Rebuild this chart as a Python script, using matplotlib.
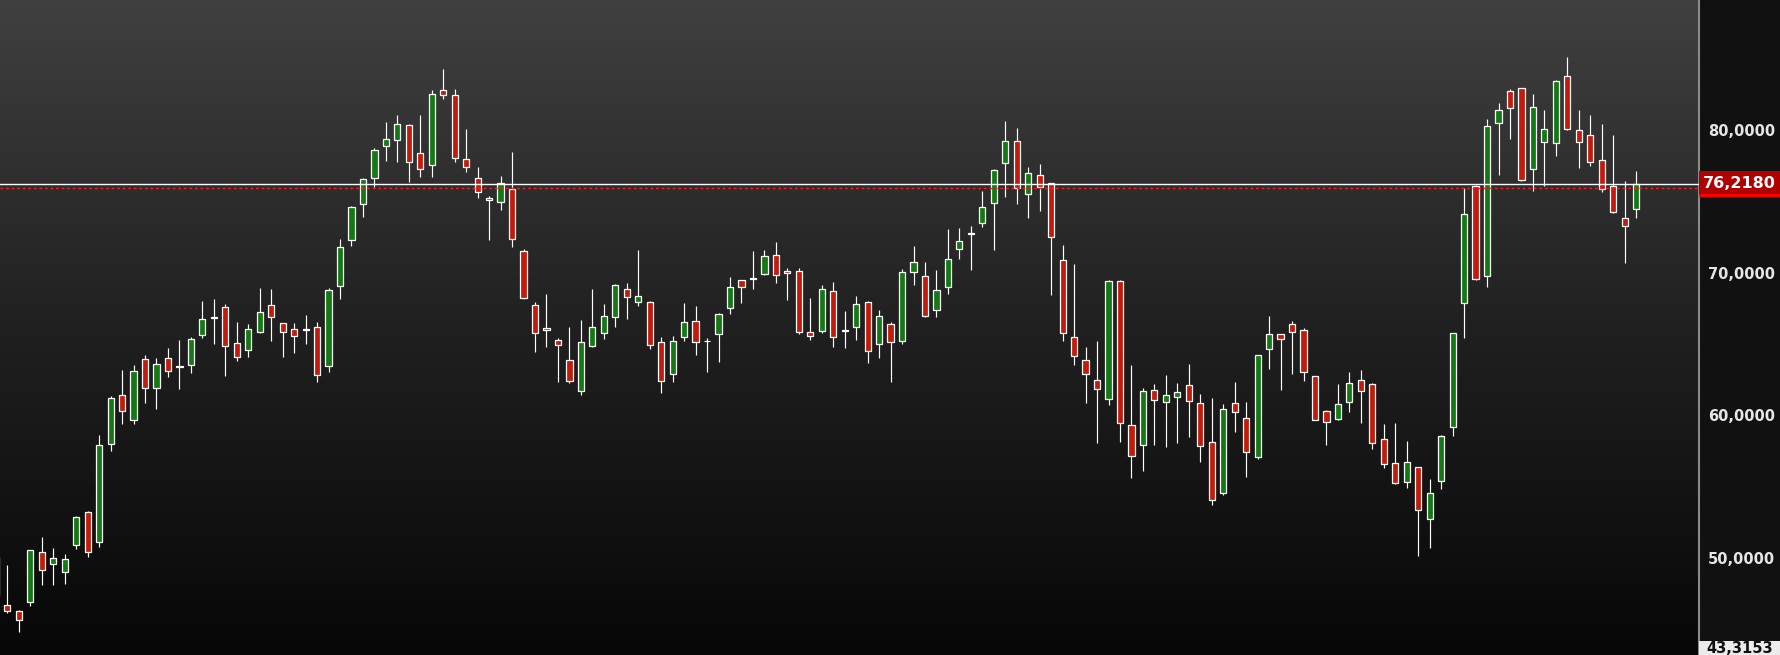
import numpy as np
import matplotlib
matplotlib.use("Agg")
import matplotlib.pyplot as plt
from matplotlib.patches import Rectangle

# daily candles
opens = [47.41, 46.69, 46.27, 46.95, 50.41, 49.61, 49.05, 50.94, 53.21, 51.15,
         58.02, 61.41, 59.66, 63.93, 61.90, 64.00, 63.45, 63.51, 65.61, 66.92,
         67.57, 65.05, 64.60, 65.86, 67.71, 66.45, 66.08, 66.00, 66.17, 63.44,
         69.09, 72.31, 74.79, 76.61, 78.86, 79.28, 80.33, 78.37, 77.53, 82.82,
         82.45, 77.95, 76.62, 75.21, 74.93, 75.84, 71.50, 67.71, 66.10, 65.26,
         63.86, 61.69, 64.89, 65.75, 66.87, 68.84, 67.93, 67.93, 65.12, 62.88,
         65.47, 66.59, 65.24, 65.67, 67.51, 69.47, 69.56, 69.89, 71.22, 70.12,
         70.09, 65.82, 65.89, 68.70, 65.97, 66.17, 67.93, 65.00, 66.38, 65.24,
         70.03, 69.75, 67.37, 68.98, 71.64, 72.71, 73.46, 74.86, 77.67, 79.21,
         75.54, 76.83, 76.26, 70.87, 65.47, 63.86, 62.46, 61.13, 69.40, 59.31,
         57.90, 61.76, 60.92, 61.27, 62.11, 60.85, 58.11, 54.54, 60.85, 59.80,
         57.06, 64.67, 65.68, 66.38, 65.96, 62.74, 60.29, 59.77, 60.96, 62.46,
         62.18, 58.32, 56.64, 55.35, 56.38, 52.76, 55.37, 59.21, 67.86, 76.05,
         69.75, 80.47, 82.72, 82.91, 77.27, 79.14, 79.08, 83.75, 79.98, 79.63,
         77.88, 76.10, 73.81, 74.44]
highs = [50.20, 49.52, 46.36, 50.60, 51.48, 50.71, 50.29, 52.95, 53.30, 58.63,
         61.36, 63.18, 63.53, 64.25, 64.02, 64.72, 65.28, 65.49, 68.02, 68.16,
         67.81, 66.52, 66.40, 68.93, 68.86, 66.50, 66.45, 67.05, 66.52, 68.91,
         72.36, 74.67, 76.64, 78.72, 80.56, 81.05, 80.40, 81.05, 82.80, 84.25,
         82.90, 80.07, 77.41, 75.37, 76.78, 78.46, 71.64, 67.92, 68.51, 65.42,
         66.20, 66.69, 68.86, 67.81, 69.21, 69.28, 71.59, 68.02, 65.49, 65.56,
         67.88, 67.67, 65.40, 67.15, 69.70, 69.50, 71.52, 71.59, 72.13, 70.31,
         70.31, 68.23, 69.14, 69.35, 67.32, 68.37, 68.00, 67.39, 66.52, 70.26,
         71.87, 70.75, 70.19, 73.06, 73.13, 73.27, 75.73, 77.29, 80.63, 80.14,
         77.41, 77.62, 76.30, 71.94, 70.61, 64.79, 65.21, 69.49, 69.49, 63.51,
         61.90, 62.18, 62.81, 62.25, 63.60, 61.50, 61.22, 60.80, 62.34, 60.94,
         64.25, 66.97, 65.72, 66.62, 66.12, 62.74, 60.38, 62.20, 63.04, 63.18,
         62.25, 59.40, 59.47, 58.21, 56.40, 55.56, 58.60, 65.80, 75.91, 76.15,
         80.77, 81.89, 82.88, 82.96, 82.52, 81.40, 83.51, 85.13, 81.40, 81.05,
         80.42, 79.65, 76.43, 77.13]
lows = [47.30, 46.17, 44.84, 46.67, 48.11, 48.11, 48.18, 50.66, 50.08, 50.78,
        57.50, 59.40, 59.40, 60.89, 60.47, 62.71, 61.87, 62.99, 65.44, 65.02,
        62.78, 63.83, 64.11, 65.79, 65.24, 64.11, 64.39, 65.02, 62.36, 63.06,
        68.18, 71.89, 73.92, 76.03, 77.85, 77.78, 76.38, 76.73, 76.73, 82.20,
        77.78, 77.08, 75.26, 72.31, 74.41, 71.82, 68.14, 64.46, 64.81, 62.36,
        62.26, 61.45, 64.81, 65.37, 66.22, 66.78, 67.69, 64.67, 61.59, 62.36,
        65.24, 64.25, 63.06, 63.77, 67.13, 67.90, 68.88, 69.85, 69.30, 68.11,
        65.68, 65.31, 65.74, 64.81, 64.74, 65.31, 63.69, 64.04, 62.36, 65.02,
        69.16, 66.90, 66.92, 68.53, 70.98, 70.21, 73.18, 71.57, 75.33, 74.84,
        73.85, 74.34, 68.46, 65.24, 63.55, 60.89, 58.09, 60.75, 58.16, 55.63,
        56.12, 57.95, 57.81, 58.09, 58.51, 56.75, 53.72, 54.42, 58.84, 55.70,
        56.94, 63.27, 61.80, 62.92, 62.43, 59.66, 57.93, 59.66, 60.26, 59.49,
        57.67, 56.33, 55.20, 54.92, 50.13, 50.74, 54.84, 58.56, 65.45, 69.50,
        69.02, 76.87, 79.40, 76.44, 75.76, 76.10, 78.19, 80.00, 77.36, 77.50,
        75.68, 74.20, 70.70, 73.85]
closes = [50.10, 46.31, 45.64, 50.55, 49.15, 49.99, 49.92, 52.86, 50.45, 57.90,
          61.20, 60.29, 63.09, 61.90, 63.58, 63.09, 63.38, 65.33, 66.74, 66.80,
          64.84, 64.07, 66.03, 67.22, 66.87, 65.82, 65.59, 66.02, 62.81, 68.77,
          71.78, 74.58, 76.54, 78.58, 79.35, 80.40, 77.74, 77.25, 82.55, 82.42,
          78.02, 77.43, 75.63, 75.07, 76.26, 72.34, 68.21, 65.75, 65.95, 64.90,
          62.39, 65.12, 66.17, 66.94, 69.12, 68.28, 68.35, 64.91, 62.39, 65.19,
          66.52, 65.12, 65.19, 67.08, 68.98, 69.02, 69.60, 71.15, 69.82, 69.96,
          65.82, 65.54, 68.84, 65.47, 65.92, 67.79, 64.49, 66.94, 65.12, 70.03,
          70.73, 66.94, 68.77, 70.94, 72.20, 72.75, 74.58, 77.18, 79.21, 75.91,
          76.97, 75.98, 72.48, 65.75, 64.14, 62.88, 61.83, 69.40, 59.45, 57.13,
          61.69, 61.06, 61.41, 61.62, 60.99, 57.83, 54.07, 60.43, 60.22, 57.46,
          64.21, 65.68, 65.33, 65.82, 63.06, 59.66, 59.52, 60.78, 62.25, 61.69,
          58.04, 56.61, 55.28, 56.71, 53.36, 54.54, 58.53, 65.75, 74.09, 69.54,
          80.30, 81.38, 81.54, 76.51, 81.59, 80.05, 83.40, 80.07, 79.14, 77.74,
          75.84, 74.23, 73.25, 76.218]

last_price = 76.218
ref_price = 75.93
axis_min = 43.3153
ticks = [50, 60, 70, 80]

W, H = 1781, 655
fig = plt.figure(figsize=(W / 100, H / 100), dpi=100)
fig.patch.set_facecolor("#111111")
ax = fig.add_axes([0, 0, 1699 / W, 1])

o = np.array(opens)
c = np.array(closes)
x = np.arange(len(o))
ax.set_xlim(0.357, 148.48)
ax.set_ylim(43.21, 89.11)

# background gradient
grad = np.linspace(0, 1, 256).reshape(-1, 1)
ax.imshow(grad, extent=[0.357, 148.48, 43.21, 89.11], aspect="auto",
          cmap=matplotlib.colors.LinearSegmentedColormap.from_list(
              "bg", ["#404040", "#202020", "#070707"]),
          origin="upper", zorder=0)

# candles
up = c >= o
colors = np.where(up, "#137a13", "#c41a0b")
ax.vlines(x, lows, highs, color="white", lw=0.85, zorder=2)
ax.bar(x, np.maximum(np.abs(c - o), 0.03), bottom=np.minimum(o, c), width=0.54,
       color=colors, edgecolor="white", linewidth=0.9, zorder=3)

ax.axhline(last_price, color="white", lw=1.0, zorder=5)
ax.axhline(ref_price, color="#ff1a1a", lw=1.0, ls=(0, (2, 2)), zorder=5)

for s in ["top", "left", "bottom"]:
    ax.spines[s].set_visible(False)
ax.spines["right"].set_color("#8a8a8a")
ax.spines["right"].set_linewidth(1.5)
ax.set_xticks([])
ax.yaxis.tick_right()
ax.set_yticks(ticks)
ax.set_yticklabels([f"{t:.4f}".replace(".", ",") for t in ticks])
ax.tick_params(axis="y", length=0, pad=6.5, labelsize=10.5,
               labelcolor="#e6e6e6")
for lab in ax.get_yticklabels():
    lab.set_fontweight("bold")

# price labels on the axis
tr = ax.get_yaxis_transform()
pw = W / 1699 - 1
ax.add_patch(Rectangle((1.0, 75.51), pw, 1.62, transform=tr,
                       facecolor="#b00000", clip_on=False, zorder=6))
ax.add_patch(Rectangle((1.0, 75.33), pw, 0.18, transform=tr,
                       facecolor="#ff0000", clip_on=False, zorder=6))
ax.text(1.0025, last_price, f"{last_price:.4f}".replace(".", ","), transform=tr,
        ha="left", va="center", fontsize=11.5, fontweight="bold",
        color="white", zorder=7, clip_on=False)

# bottom value of the scale, boxed at the lower edge
ax.add_patch(Rectangle((1.0, 43.0), pw, 1.2, transform=tr,
                       facecolor="#ececec", clip_on=False, zorder=6))
ax.text(1.0 + pw / 2, 43.64, f"{axis_min:.4f}".replace(".", ","),
        transform=tr, ha="center", va="center", fontsize=10.5,
        fontweight="bold", color="#111111", zorder=7, clip_on=False)

fig.savefig("out.png", dpi=100, facecolor=fig.get_facecolor())
